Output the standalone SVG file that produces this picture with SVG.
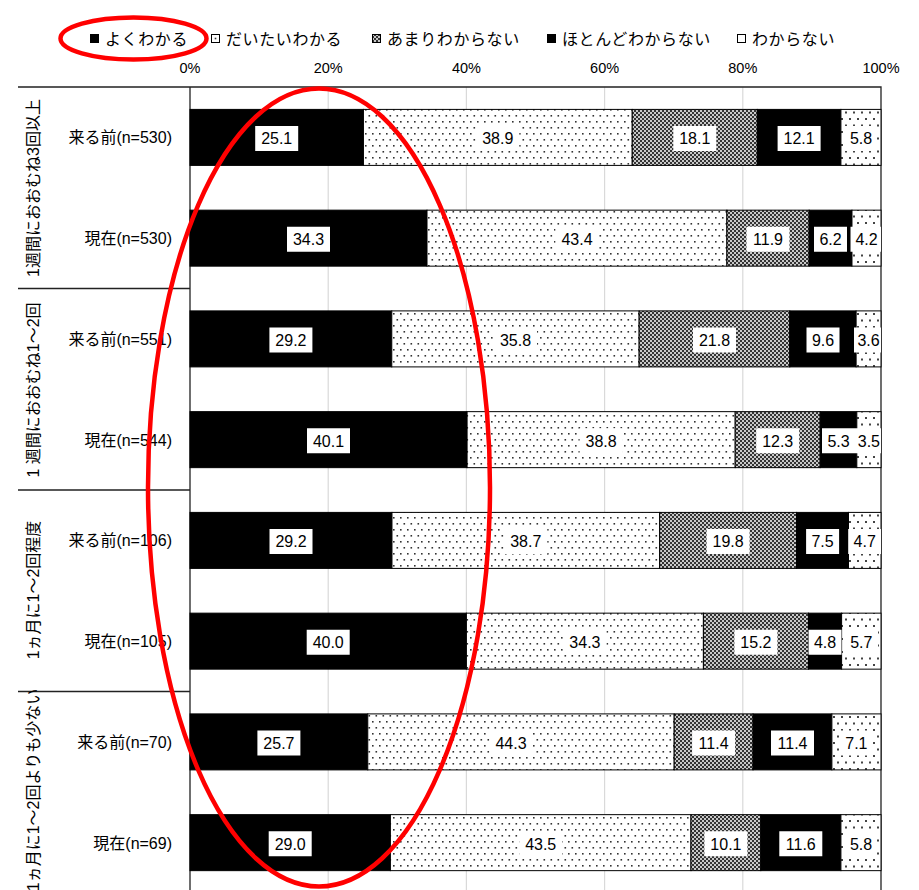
<svg xmlns="http://www.w3.org/2000/svg" width="919" height="890" viewBox="0 0 919 890">
<style>
.jp{font-family:"Liberation Sans","Noto Sans CJK JP",sans-serif;font-size:16px;fill:#000}
.lg{font-family:"Noto Sans CJK JP",sans-serif;font-size:16px;letter-spacing:0.6px;fill:#000}
.ax{font-family:"Liberation Sans",sans-serif;font-size:14.5px;fill:#000;text-anchor:middle}
.val{font-family:"Liberation Sans",sans-serif;font-size:16px;fill:#000;text-anchor:middle}
.box{fill:#fff}
.seg{stroke:#000;stroke-width:1}
.grid{stroke:#d9d9d9;stroke-width:1.2}
.frame{stroke:#222;stroke-width:1.3;fill:none}
.red{fill:none;stroke:#ff0000;stroke-width:4.5}
</style>
<defs>
<pattern id="pDot" width="7" height="12" patternUnits="userSpaceOnUse">
<rect width="7" height="12" fill="#fff"/>
<rect x="1" y="1" width="1.6" height="1.6" fill="#333"/>
<rect x="4.5" y="7" width="1.6" height="1.6" fill="#333"/>
</pattern>
<pattern id="pWide" width="8" height="13" patternUnits="userSpaceOnUse">
<rect width="8" height="13" fill="#fff"/>
<rect x="1" y="1" width="2" height="2" fill="#444"/>
<rect x="5" y="7.5" width="2" height="2" fill="#444"/>
</pattern>
<pattern id="pChk" width="4" height="4" patternUnits="userSpaceOnUse">
<rect width="4" height="4" fill="#c8c8c8"/>
<rect x="0" y="0" width="2" height="2" fill="#333"/>
<rect x="2" y="2" width="2" height="2" fill="#333"/>
</pattern>
<pattern id="pLegDot" width="9" height="9" patternUnits="userSpaceOnUse" x="211" y="34">
<rect width="9" height="9" fill="#fff"/>
<rect x="3.7" y="3.7" width="1.6" height="1.6" fill="#333"/>
</pattern>
</defs>
<rect width="919" height="890" fill="#fff"/>

<g id="legend">
<rect x="90" y="34" width="9" height="9" fill="#000"/>
<text class="lg" x="105" y="44.5">よくわかる</text>
<rect x="211.5" y="34.5" width="8" height="8" fill="url(#pLegDot)" stroke="#000" stroke-width="1"/>
<text class="lg" x="226" y="44.5">だいたいわかる</text>
<rect x="372.5" y="34.5" width="8" height="8" fill="url(#pChk)" stroke="#000" stroke-width="1"/>
<text class="lg" x="387" y="44.5">あまりわからない</text>
<rect x="547" y="34" width="9" height="9" fill="#000"/>
<text class="lg" x="562" y="44.5">ほとんどわからない</text>
<rect x="737.5" y="34.5" width="8" height="8" fill="#fff" stroke="#000" stroke-width="1"/>
<text class="lg" x="752" y="44.5">わからない</text>
</g>

<g id="axis">
<text class="ax" x="190" y="73">0%</text>
<text class="ax" x="328.2" y="73">20%</text>
<text class="ax" x="466.4" y="73">40%</text>
<text class="ax" x="604.6" y="73">60%</text>
<text class="ax" x="742.8" y="73">80%</text>
<text class="ax" x="881" y="73">100%</text>
<line class="grid" x1="328.2" y1="87" x2="328.2" y2="890"/>
<line class="grid" x1="466.4" y1="87" x2="466.4" y2="890"/>
<line class="grid" x1="604.6" y1="87" x2="604.6" y2="890"/>
<line class="grid" x1="742.8" y1="87" x2="742.8" y2="890"/>
<path class="frame" d="M18 87H881V890M190 87V890M18 288.5H190M18 490H190M18 691.5H190"/>
</g>

<g id="groups">
<text class="jp" text-anchor="middle" transform="translate(39,188) rotate(-90)">1週間におおむね3回以上</text>
<text class="jp" text-anchor="middle" transform="translate(39,390) rotate(-90)">1 週間におおむね1～2回</text>
<text class="jp" text-anchor="middle" transform="translate(39,590) rotate(-90)">1ヵ月に1～2回程度</text>
<text class="jp" text-anchor="middle" transform="translate(39,790) rotate(-90)">1ヵ月に1～2回よりも少ない</text>
</g>

<g id="row1">
<text class="jp" text-anchor="end" x="172" y="143.4">来る前(n=530)</text>
<rect class="seg" x="190" y="109.4" width="173.44" height="56" fill="#000"/>
<rect class="seg" x="363.44" y="109.4" width="268.8" height="56" fill="url(#pDot)"/>
<rect class="seg" x="632.24" y="109.4" width="125.07" height="56" fill="url(#pChk)"/>
<rect class="seg" x="757.31" y="109.4" width="83.61" height="56" fill="#000"/>
<rect class="seg" x="840.92" y="109.4" width="40.08" height="56" fill="url(#pWide)"/>
<rect class="box" x="255.2" y="126" width="43" height="25"/><text class="val" x="276.7" y="144.3">25.1</text>
<rect class="box" x="476.3" y="126" width="43" height="25"/><text class="val" x="497.8" y="144.3">38.9</text>
<rect class="box" x="673.3" y="126" width="43" height="25"/><text class="val" x="694.8" y="144.3">18.1</text>
<rect class="box" x="777.6" y="126" width="43" height="25"/><text class="val" x="799.1" y="144.3">12.1</text>
<rect class="box" x="845" y="126" width="32" height="25"/><text class="val" x="861" y="144.3">5.8</text>
</g>

<g id="row2">
<text class="jp" text-anchor="end" x="172" y="244.15">現在(n=530)</text>
<rect class="seg" x="190" y="210.15" width="237.01" height="56" fill="#000"/>
<rect class="seg" x="427.01" y="210.15" width="299.9" height="56" fill="url(#pDot)"/>
<rect class="seg" x="726.91" y="210.15" width="82.23" height="56" fill="url(#pChk)"/>
<rect class="seg" x="809.14" y="210.15" width="42.84" height="56" fill="#000"/>
<rect class="seg" x="851.98" y="210.15" width="29.02" height="56" fill="url(#pWide)"/>
<rect class="box" x="287" y="226.75" width="43" height="25"/><text class="val" x="308.5" y="245.05">34.3</text>
<rect class="box" x="555.5" y="226.75" width="43" height="25"/><text class="val" x="577" y="245.05">43.4</text>
<rect class="box" x="746.5" y="226.75" width="43" height="25"/><text class="val" x="768" y="245.05">11.9</text>
<rect class="box" x="814" y="226.75" width="33" height="25"/><text class="val" x="830.6" y="245.05">6.2</text>
<rect class="box" x="850.5" y="226.75" width="30.5" height="25"/><text class="val" x="866.5" y="245.05">4.2</text>
</g>

<g id="row3">
<text class="jp" text-anchor="end" x="172" y="344.9">来る前(n=551)</text>
<rect class="seg" x="190" y="310.9" width="201.77" height="56" fill="#000"/>
<rect class="seg" x="391.77" y="310.9" width="247.38" height="56" fill="url(#pDot)"/>
<rect class="seg" x="639.15" y="310.9" width="150.64" height="56" fill="url(#pChk)"/>
<rect class="seg" x="789.79" y="310.9" width="66.33" height="56" fill="#000"/>
<rect class="seg" x="856.12" y="310.9" width="24.88" height="56" fill="url(#pWide)"/>
<rect class="box" x="269.4" y="327.5" width="43" height="25"/><text class="val" x="290.9" y="345.8">29.2</text>
<rect class="box" x="494" y="327.5" width="43" height="25"/><text class="val" x="515.5" y="345.8">35.8</text>
<rect class="box" x="693" y="327.5" width="43" height="25"/><text class="val" x="714.5" y="345.8">21.8</text>
<rect class="box" x="806.5" y="327.5" width="33" height="25"/><text class="val" x="823" y="345.8">9.6</text>
<rect class="box" x="854" y="327.5" width="27" height="25"/><text class="val" x="868.6" y="345.8">3.6</text>
</g>

<g id="row4">
<text class="jp" text-anchor="end" x="172" y="445.65">現在(n=544)</text>
<rect class="seg" x="190" y="411.65" width="277.09" height="56" fill="#000"/>
<rect class="seg" x="467.09" y="411.65" width="268.11" height="56" fill="url(#pDot)"/>
<rect class="seg" x="735.2" y="411.65" width="84.99" height="56" fill="url(#pChk)"/>
<rect class="seg" x="820.19" y="411.65" width="36.63" height="56" fill="#000"/>
<rect class="seg" x="856.82" y="411.65" width="24.18" height="56" fill="url(#pWide)"/>
<rect class="box" x="307" y="428.25" width="43" height="25"/><text class="val" x="328.5" y="446.55">40.1</text>
<rect class="box" x="579.6" y="428.25" width="43" height="25"/><text class="val" x="601.1" y="446.55">38.8</text>
<rect class="box" x="756.2" y="428.25" width="43" height="25"/><text class="val" x="777.7" y="446.55">12.3</text>
<rect class="box" x="822" y="428.25" width="33" height="25"/><text class="val" x="838.5" y="446.55">5.3</text>
<rect class="box" x="855" y="428.25" width="26" height="25"/><text class="val" x="868.9" y="446.55">3.5</text>
</g>

<g id="row5">
<text class="jp" text-anchor="end" x="172" y="546.4">来る前(n=106)</text>
<rect class="seg" x="190" y="512.4" width="201.97" height="56" fill="#000"/>
<rect class="seg" x="391.97" y="512.4" width="267.69" height="56" fill="url(#pDot)"/>
<rect class="seg" x="659.66" y="512.4" width="136.95" height="56" fill="url(#pChk)"/>
<rect class="seg" x="796.61" y="512.4" width="51.88" height="56" fill="#000"/>
<rect class="seg" x="848.49" y="512.4" width="32.51" height="56" fill="url(#pWide)"/>
<rect class="box" x="269.5" y="529" width="43" height="25"/><text class="val" x="291" y="547.3">29.2</text>
<rect class="box" x="504.3" y="529" width="43" height="25"/><text class="val" x="525.8" y="547.3">38.7</text>
<rect class="box" x="706.6" y="529" width="43" height="25"/><text class="val" x="728.1" y="547.3">19.8</text>
<rect class="box" x="806.1" y="529" width="33" height="25"/><text class="val" x="822.6" y="547.3">7.5</text>
<rect class="box" x="848.2" y="529" width="32.8" height="25"/><text class="val" x="864.7" y="547.3">4.7</text>
</g>

<g id="row6">
<text class="jp" text-anchor="end" x="172" y="647.15">現在(n=105)</text>
<rect class="seg" x="190" y="613.15" width="276.4" height="56" fill="#000"/>
<rect class="seg" x="466.4" y="613.15" width="237.01" height="56" fill="url(#pDot)"/>
<rect class="seg" x="703.41" y="613.15" width="105.04" height="56" fill="url(#pChk)"/>
<rect class="seg" x="808.45" y="613.15" width="33.16" height="56" fill="#000"/>
<rect class="seg" x="841.61" y="613.15" width="39.39" height="56" fill="url(#pWide)"/>
<rect class="box" x="306.7" y="629.75" width="43" height="25"/><text class="val" x="328.2" y="648.05">40.0</text>
<rect class="box" x="563.4" y="629.75" width="43" height="25"/><text class="val" x="584.9" y="648.05">34.3</text>
<rect class="box" x="734.4" y="629.75" width="43" height="25"/><text class="val" x="755.9" y="648.05">15.2</text>
<rect class="box" x="808.5" y="629.75" width="33" height="25"/><text class="val" x="825" y="648.05">4.8</text>
<rect class="box" x="845" y="629.75" width="33" height="25"/><text class="val" x="861.3" y="648.05">5.7</text>
</g>

<g id="row7">
<text class="jp" text-anchor="end" x="172" y="747.9">来る前(n=70)</text>
<rect class="seg" x="190" y="713.9" width="177.77" height="56" fill="#000"/>
<rect class="seg" x="367.77" y="713.9" width="306.41" height="56" fill="url(#pDot)"/>
<rect class="seg" x="674.18" y="713.9" width="78.86" height="56" fill="url(#pChk)"/>
<rect class="seg" x="753.04" y="713.9" width="78.85" height="56" fill="#000"/>
<rect class="seg" x="831.89" y="713.9" width="49.11" height="56" fill="url(#pWide)"/>
<rect class="box" x="257.4" y="730.5" width="43" height="25"/><text class="val" x="278.9" y="748.8">25.7</text>
<rect class="box" x="489.5" y="730.5" width="43" height="25"/><text class="val" x="511" y="748.8">44.3</text>
<rect class="box" x="692.1" y="730.5" width="43" height="25"/><text class="val" x="713.6" y="748.8">11.4</text>
<rect class="box" x="771" y="730.5" width="43" height="25"/><text class="val" x="792.5" y="748.8">11.4</text>
<rect class="box" x="840" y="730.5" width="33" height="25"/><text class="val" x="856.4" y="748.8">7.1</text>
</g>

<g id="row8">
<text class="jp" text-anchor="end" x="172" y="848.65">現在(n=69)</text>
<rect class="seg" x="190" y="814.65" width="200.39" height="56" fill="#000"/>
<rect class="seg" x="390.39" y="814.65" width="300.59" height="56" fill="url(#pDot)"/>
<rect class="seg" x="690.98" y="814.65" width="69.79" height="56" fill="url(#pChk)"/>
<rect class="seg" x="760.77" y="814.65" width="80.15" height="56" fill="#000"/>
<rect class="seg" x="840.92" y="814.65" width="40.08" height="56" fill="url(#pWide)"/>
<rect class="box" x="268.7" y="831.25" width="43" height="25"/><text class="val" x="290.2" y="849.55">29.0</text>
<rect class="box" x="519.2" y="831.25" width="43" height="25"/><text class="val" x="540.7" y="849.55">43.5</text>
<rect class="box" x="704.4" y="831.25" width="43" height="25"/><text class="val" x="725.9" y="849.55">10.1</text>
<rect class="box" x="779.3" y="831.25" width="43" height="25"/><text class="val" x="800.8" y="849.55">11.6</text>
<rect class="box" x="845" y="831.25" width="32" height="25"/><text class="val" x="861" y="849.55">5.8</text>
</g>

<g id="annotations">
<ellipse class="red" cx="133.5" cy="38.5" rx="73" ry="21"/>
<ellipse class="red" cx="319" cy="487.5" rx="171" ry="399"/>
</g>
</svg>
